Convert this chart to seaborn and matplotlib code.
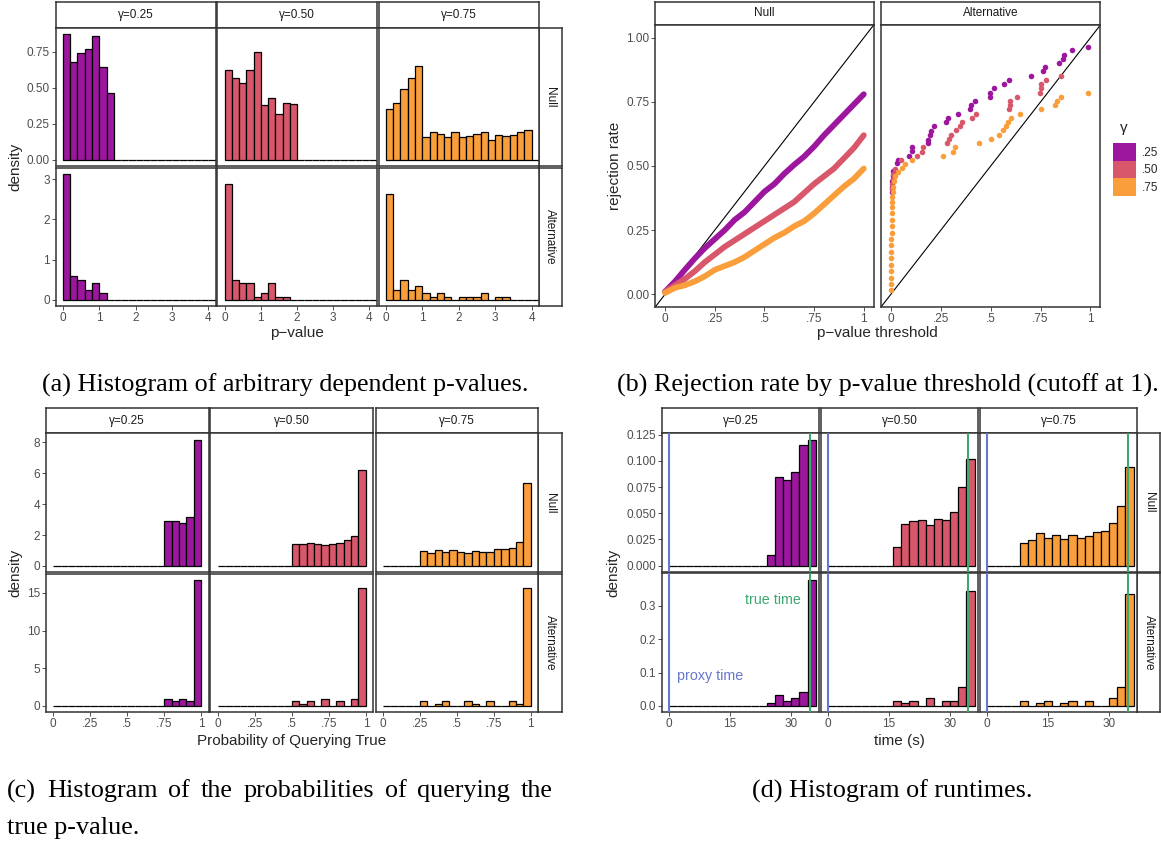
import numpy as np
import pandas as pd
import matplotlib
matplotlib.use("Agg")
import matplotlib.pyplot as plt
from matplotlib.patches import Patch
import seaborn as sns

# ---- data ----
gammas = ["γ=0.25", "γ=0.50", "γ=0.75"]
legend_labels = [".25", ".50", ".75"]
rows = ["Null", "Alternative"]
colors = ["#9C179E", "#D8576B", "#FA9E3B"]

# (a) p-value histograms, bin width 0.2
a_null_25 = [0.87, 0.68, 0.74, 0.77, 0.86, 0.64, 0.46, 0, 0, 0, 0, 0, 0, 0, 0, 0, 0, 0, 0, 0, 0]
a_null_50 = [0.62, 0.57, 0.53, 0.62, 0.75, 0.38, 0.43, 0.32, 0.39, 0.385, 0, 0, 0, 0, 0, 0, 0, 0, 0, 0, 0]
a_null_75 = [0.35, 0.39, 0.49, 0.57, 0.65, 0.16, 0.19, 0.18, 0.16, 0.19, 0.155, 0.165, 0.18, 0.19, 0.135,
             0.17, 0.165, 0.17, 0.195, 0.205, 0]
a_alt_25 = [3.12, 0.58, 0.49, 0.25, 0.41, 0.165, 0, 0, 0, 0, 0, 0, 0, 0, 0, 0, 0, 0, 0, 0, 0]
a_alt_50 = [2.88, 0.495, 0.41, 0.41, 0.08, 0.165, 0.41, 0.08, 0.08, 0, 0, 0, 0, 0, 0, 0, 0, 0, 0, 0, 0]
a_alt_75 = [2.62, 0.25, 0.49, 0.25, 0.33, 0.165, 0.08, 0.165, 0.08, 0, 0.08, 0.08, 0.08, 0.165, 0,
            0.08, 0.08, 0, 0, 0, 0]

# (b) rejection rate by threshold
b_null_x = [0, 0.05, 0.1, 0.15, 0.2, 0.25, 0.3, 0.35, 0.4, 0.45, 0.5, 0.55, 0.6, 0.65, 0.7, 0.75, 0.8,
            0.85, 0.9, 0.95, 1.0]
b_null_25 = [0.01, 0.05, 0.096, 0.14, 0.18, 0.215, 0.25, 0.29, 0.32, 0.36, 0.40, 0.43, 0.47, 0.505,
             0.537, 0.576, 0.62, 0.66, 0.70, 0.74, 0.78]
b_null_50 = [0.01, 0.035, 0.06, 0.09, 0.125, 0.155, 0.185, 0.21, 0.235, 0.26, 0.285, 0.31, 0.335, 0.36,
             0.395, 0.43, 0.46, 0.49, 0.53, 0.57, 0.62]
b_null_75 = [0.005, 0.025, 0.035, 0.05, 0.07, 0.095, 0.11, 0.125, 0.145, 0.17, 0.195, 0.22, 0.24, 0.265,
             0.285, 0.315, 0.35, 0.385, 0.42, 0.45, 0.49]

b_alt_25_x = [0.003, 0.004, 0.006, 0.008, 0.012, 0.028, 0.034, 0.088, 0.106, 0.106, 0.185, 0.188, 0.196,
              0.2, 0.215, 0.274, 0.284, 0.336, 0.396, 0.4, 0.42, 0.496, 0.496, 0.515, 0.567, 0.59, 0.703,
              0.763, 0.772, 0.84, 0.864, 0.866, 0.909, 0.989]
b_alt_25_y = [0.40, 0.42, 0.44, 0.46, 0.48, 0.51, 0.524, 0.54, 0.56, 0.574, 0.589, 0.602, 0.621, 0.638,
              0.655, 0.67, 0.687, 0.704, 0.721, 0.737, 0.753, 0.77, 0.786, 0.803, 0.82, 0.835, 0.852,
              0.869, 0.885, 0.901, 0.918, 0.934, 0.951, 0.966]
b_alt_50_x = [0.004, 0.006, 0.008, 0.012, 0.02, 0.05, 0.132, 0.157, 0.162, 0.28, 0.29, 0.3, 0.327, 0.345,
              0.356, 0.407, 0.425, 0.591, 0.597, 0.597, 0.63, 0.746, 0.75, 0.754, 0.776, 0.851]
b_alt_50_y = [0.41, 0.43, 0.45, 0.47, 0.49, 0.524, 0.54, 0.556, 0.574, 0.589, 0.607, 0.622, 0.64, 0.656,
              0.672, 0.689, 0.704, 0.721, 0.737, 0.753, 0.769, 0.786, 0.803, 0.82, 0.835, 0.852]
b_alt_75_x = [0.002, 0.002, 0.002, 0.002, 0.002, 0.002, 0.002, 0.002, 0.002, 0.003, 0.003, 0.003, 0.004,
              0.004, 0.005, 0.006, 0.008, 0.010, 0.013, 0.020, 0.034, 0.054, 0.069, 0.104, 0.263, 0.313,
              0.323, 0.44, 0.5, 0.541, 0.56, 0.575, 0.588, 0.601, 0.646, 0.754, 0.821, 0.834, 0.851, 0.989]
b_alt_75_y = [0.015, 0.04, 0.065, 0.09, 0.115, 0.14, 0.165, 0.19, 0.215, 0.24, 0.265, 0.29, 0.315, 0.34,
              0.36, 0.38, 0.40, 0.42, 0.44, 0.46, 0.475, 0.492, 0.508, 0.524, 0.54, 0.556, 0.574, 0.589,
              0.607, 0.622, 0.639, 0.655, 0.672, 0.689, 0.704, 0.721, 0.737, 0.753, 0.769, 0.786]

# (c) probability of querying true, bin width 0.05
c_null_25 = [0, 0, 0, 0, 0, 0, 0, 0, 0, 0, 0, 0, 0, 0, 0, 2.9, 2.9, 2.8, 3.2, 8.18]
c_null_50 = [0, 0, 0, 0, 0, 0, 0, 0, 0, 0, 1.45, 1.41, 1.48, 1.41, 1.37, 1.43, 1.50, 1.67, 1.93, 6.23]
c_null_75 = [0, 0, 0, 0, 0, 1.0, 0.82, 1.02, 0.93, 1.02, 0.91, 0.85, 1.0, 0.91, 0.91, 1.08, 1.13, 1.17,
             1.58, 5.36]
c_alt_25 = [0, 0, 0, 0, 0, 0, 0, 0, 0, 0, 0, 0, 0, 0, 0, 0.97, 0.62, 0.97, 0.62, 16.7]
c_alt_50 = [0, 0, 0, 0, 0, 0, 0, 0, 0, 0, 0.62, 0.3, 0.62, 0, 0.97, 0, 0.62, 0, 0.97, 15.7]
c_alt_75 = [0, 0, 0, 0, 0, 0.62, 0, 0.3, 0.62, 0, 0, 0.62, 0.3, 0, 0.62, 0, 0, 0.62, 0.3, 15.7]

# (d) runtimes in seconds, bin width 2
d_null_25 = [0, 0, 0, 0, 0, 0, 0, 0, 0, 0, 0, 0, 0.0102, 0.0848, 0.0813, 0.0890, 0.1154, 0.1202]
d_null_50 = [0, 0, 0, 0, 0, 0, 0, 0, 0.0182, 0.0402, 0.0430, 0.0434, 0.0392, 0.0443, 0.0440, 0.0513,
             0.0746, 0.1017]
d_null_75 = [0, 0, 0, 0, 0.0214, 0.0246, 0.0309, 0.0265, 0.0293, 0.0255, 0.0293, 0.0265, 0.0281, 0.0319,
             0.0328, 0.0411, 0.0571, 0.0941]
d_alt_25 = [0, 0, 0, 0, 0, 0, 0, 0, 0, 0, 0, 0, 0.009, 0.033, 0.016, 0.024, 0.041, 0.378]
d_alt_50 = [0, 0, 0, 0, 0, 0, 0, 0, 0.016, 0.009, 0.016, 0, 0.024, 0, 0.016, 0.016, 0.058, 0.344]
d_alt_75 = [0, 0, 0, 0, 0.016, 0, 0.009, 0.016, 0, 0.009, 0.016, 0, 0.016, 0, 0, 0.024, 0.058, 0.336]
proxy_time = 0.0
true_time = 34.5

# ---- style ----
sns.set_theme(style="ticks")
plt.rcParams["font.family"] = ["Liberation Sans", "DejaVu Sans"]
plt.rcParams.update({
    "axes.edgecolor": "#333333",
    "axes.linewidth": 1.1,
    "xtick.color": "#333333",
    "ytick.color": "#333333",
    "xtick.labelcolor": "#4D4D4D",
    "ytick.labelcolor": "#4D4D4D",
    "xtick.labelsize": 8.5,
    "ytick.labelsize": 8.5,
    "xtick.major.size": 2.75,
    "ytick.major.size": 2.75,
    "xtick.major.width": 0.6,
    "ytick.major.width": 0.6,
    "xtick.major.pad": 1.5,
    "ytick.major.pad": 1.5,
})

W, H = 1161, 847
fig = plt.figure(figsize=(W / 100, H / 100), dpi=100)


def box(x0, y0, x1, y1):
    # axes from pixel corners (top-left origin)
    return fig.add_axes([x0 / W, 1 - y1 / H, (x1 - x0) / W, (y1 - y0) / H])


def strip(x0, y0, x1, y1, label, rot=0):
    ax = box(x0, y0, x1, y1)
    ax.set_xticks([])
    ax.set_yticks([])
    ax.text(0.5, 0.5, label, transform=ax.transAxes, ha="center", va="center",
            rotation=rot, fontsize=8.5, color="#1A1A1A")
    return ax


def hist_panel(ax, heights, width, color):
    n = len(heights)
    centers = (np.arange(n) + 0.5) * width
    df = pd.DataFrame({"x": centers, "w": heights})
    sns.histplot(data=df, x="x", weights="w", bins=n, binrange=(0, n * width), ax=ax,
                 color=color, edgecolor="black", linewidth=0.9, alpha=1)
    ax.set_xlabel("")
    ax.set_ylabel("")


def facet_hist(cols, rws, strip_y, right_x, data, width, xlim, xticks, xlabels,
               yticks, ylabels, extra=None):
    for c, (x0, x1) in enumerate(cols):
        strip(x0, strip_y[0], x1, strip_y[1], gammas[c])
    for r, (y0, y1) in enumerate(rws):
        strip(right_x[0], y0, right_x[1], y1, rows[r], rot=-90)
        ymax = max(max(h) for h in data[r])
        for c, (x0, x1) in enumerate(cols):
            ax = box(x0, y0, x1, y1)
            hist_panel(ax, data[r][c], width, colors[c])
            if extra is not None:
                extra(ax, r, c)
            ax.set_xlim(xlim)
            ax.set_ylim(-0.05 * ymax, 1.05 * ymax)
            ax.set_xticks(xticks)
            ax.set_xticklabels(xlabels)
            ax.set_yticks(yticks[r])
            ax.set_yticklabels(ylabels[r])
            if r != len(rws) - 1:
                ax.tick_params(axis="x", bottom=False, labelbottom=False)
            if c != 0:
                ax.tick_params(axis="y", left=False, labelleft=False)


# ---- (a) ----
facet_hist(cols=[(55.6, 215.6), (217.4, 376.7), (378.5, 538.9)],
           rws=[(28, 166), (168, 306)], strip_y=(2, 28), right_x=(538.9, 561.9),
           data=[[a_null_25, a_null_50, a_null_75], [a_alt_25, a_alt_50, a_alt_75]],
           width=0.2, xlim=(-0.2, 4.2), xticks=[0, 1, 2, 3, 4], xlabels=["0", "1", "2", "3", "4"],
           yticks=[[0, 0.25, 0.5, 0.75], [0, 1, 2, 3]],
           ylabels=[["0.00", "0.25", "0.50", "0.75"], ["0", "1", "2", "3"]])
fig.text(15 / W, 1 - 167 / H, "density", rotation=90, ha="center", va="center", fontsize=11)
fig.text(297 / W, 1 - 333 / H, "p\u2212value", ha="center", va="center", fontsize=11)

# ---- (b) ----
b_cols = [(655.2, 873.7), (881, 1100.4)]
strip(b_cols[0][0], 2, b_cols[0][1], 25, "Null")
strip(b_cols[1][0], 2, b_cols[1][1], 25, "Alternative")
ax_bn = box(b_cols[0][0], 25, b_cols[0][1], 307)
ax_ba = box(b_cols[1][0], 25, b_cols[1][1], 307)
for ax in (ax_bn, ax_ba):
    ax.axline((0, 0), (1, 1), color="black", linewidth=0.8, zorder=1)
for yv, col in zip([b_null_25, b_null_50, b_null_75], colors):
    sns.lineplot(x=b_null_x, y=yv, ax=ax_bn, color=col, linewidth=4.2, estimator=None,
                 sort=False, solid_capstyle="round", zorder=2)
for xv, yv, col in zip([b_alt_25_x, b_alt_50_x, b_alt_75_x],
                       [b_alt_25_y, b_alt_50_y, b_alt_75_y], colors):
    sns.scatterplot(x=xv, y=yv, ax=ax_ba, color=col, s=16, linewidth=0, zorder=3)
for ax in (ax_bn, ax_ba):
    ax.set_xlim(-0.05, 1.05)
    ax.set_ylim(-0.05, 1.05)
    ax.set_xticks([0, 0.25, 0.5, 0.75, 1])
    ax.set_xticklabels(["0", ".25", ".5", ".75", "1"])
    ax.set_yticks([0, 0.25, 0.5, 0.75, 1])
    ax.set_yticklabels(["0.00", "0.25", "0.50", "0.75", "1.00"])
    ax.set_xlabel("")
    ax.set_ylabel("")
ax_ba.tick_params(axis="y", left=False, labelleft=False)
fig.text(615 / W, 1 - 166 / H, "rejection rate", rotation=90, ha="center", va="center", fontsize=11)
fig.text(877.8 / W, 1 - 333 / H, "p\u2212value threshold", ha="center", va="center", fontsize=11)
handles = [Patch(facecolor=c, edgecolor="none") for c in colors]
fig.legend(handles=handles, labels=legend_labels, loc="upper left",
           bbox_to_anchor=(1113 / W, 1 - 143 / H), bbox_transform=fig.transFigure,
           frameon=False, fontsize=8.5, handlelength=1.95, handleheight=1.92,
           labelspacing=0, borderpad=0, borderaxespad=0, handletextpad=0.5)
fig.text(1124 / W, 1 - 128 / H, "γ", ha="center", va="center", fontsize=11)

# ---- (c) ----
facet_hist(cols=[(45.9, 208.5), (210.4, 373.3), (375.6, 538.1)],
           rws=[(433.3, 572.3), (573.7, 712.3)], strip_y=(408, 433.3), right_x=(538.1, 561.9),
           data=[[c_null_25, c_null_50, c_null_75], [c_alt_25, c_alt_50, c_alt_75]],
           width=0.05, xlim=(-0.05, 1.05), xticks=[0, 0.25, 0.5, 0.75, 1],
           xlabels=["0", ".25", ".5", ".75", "1"],
           yticks=[[0, 2, 4, 6, 8], [0, 5, 10, 15]],
           ylabels=[["0", "2", "4", "6", "8"], ["0", "5", "10", "15"]])
fig.text(15 / W, 1 - 573 / H, "density", rotation=90, ha="center", va="center", fontsize=11)
fig.text(292 / W, 1 - 741 / H, "Probability of Querying True", ha="center", va="center", fontsize=11)


# ---- (d) ----
def time_lines(ax, r, c):
    ax.axvline(proxy_time, color="#6677CC", linewidth=1.5, zorder=5)
    ax.axvline(true_time, color="#3DA870", linewidth=1.5, zorder=5)
    if r == 1 and c == 0:
        ax.text(32.3, 0.316, "true time", color="#3DA870", ha="right", va="center", fontsize=10.3)
        ax.text(2.0, 0.089, "proxy time", color="#6677CC", ha="left", va="center", fontsize=10.3)


facet_hist(cols=[(662.1, 819.4), (821.2, 978.2), (980, 1137.3)],
           rws=[(433.3, 572), (573.3, 712.3)], strip_y=(408, 433.3), right_x=(1137.3, 1160.3),
           data=[[d_null_25, d_null_50, d_null_75], [d_alt_25, d_alt_50, d_alt_75]],
           width=2.0, xlim=(-1.7, 36.9), xticks=[0, 15, 30], xlabels=["0", "15", "30"],
           yticks=[[0, 0.025, 0.05, 0.075, 0.1, 0.125], [0, 0.1, 0.2, 0.3]],
           ylabels=[["0.000", "0.025", "0.050", "0.075", "0.100", "0.125"], ["0.0", "0.1", "0.2", "0.3"]],
           extra=time_lines)
fig.text(613.7 / W, 1 - 573 / H, "density", rotation=90, ha="center", va="center", fontsize=11)
fig.text(899.7 / W, 1 - 741 / H, "time (s)", ha="center", va="center", fontsize=11)

# ---- captions ----
cap = dict(family=["Liberation Serif", "DejaVu Serif"], fontsize=18.8, color="black")
fig.text(285 / W, 1 - 385 / H, "(a) Histogram of arbitrary dependent p-values.", ha="center", va="center", **cap)
fig.text(888 / W, 1 - 385 / H, "(b) Rejection rate by p-value threshold (cutoff at 1).", ha="center", va="center", **cap)
fig.text(892 / W, 1 - 791 / H, "(d) Histogram of runtimes.", ha="center", va="center", **cap)


def justified(x0, x1, y, line):
    # spread the words of a full caption line between x0 and x1, like the typeset text
    words = line.split()
    texts = [fig.text(0, 1 - y / H, w, ha="left", va="center", **cap) for w in words]
    renderer = fig.canvas.get_renderer()
    widths = [t.get_window_extent(renderer).width for t in texts]
    gap = (x1 - x0 - sum(widths)) / (len(words) - 1)
    x = x0
    for t, w in zip(texts, widths):
        t.set_x(x / W)
        x += w + gap


justified(7, 553, 791, "(c) Histogram of the probabilities of querying the")
fig.text(7 / W, 1 - 828 / H, "true p-value.", ha="left", va="center", **cap)

fig.savefig("out.png", dpi=100, facecolor="white")
